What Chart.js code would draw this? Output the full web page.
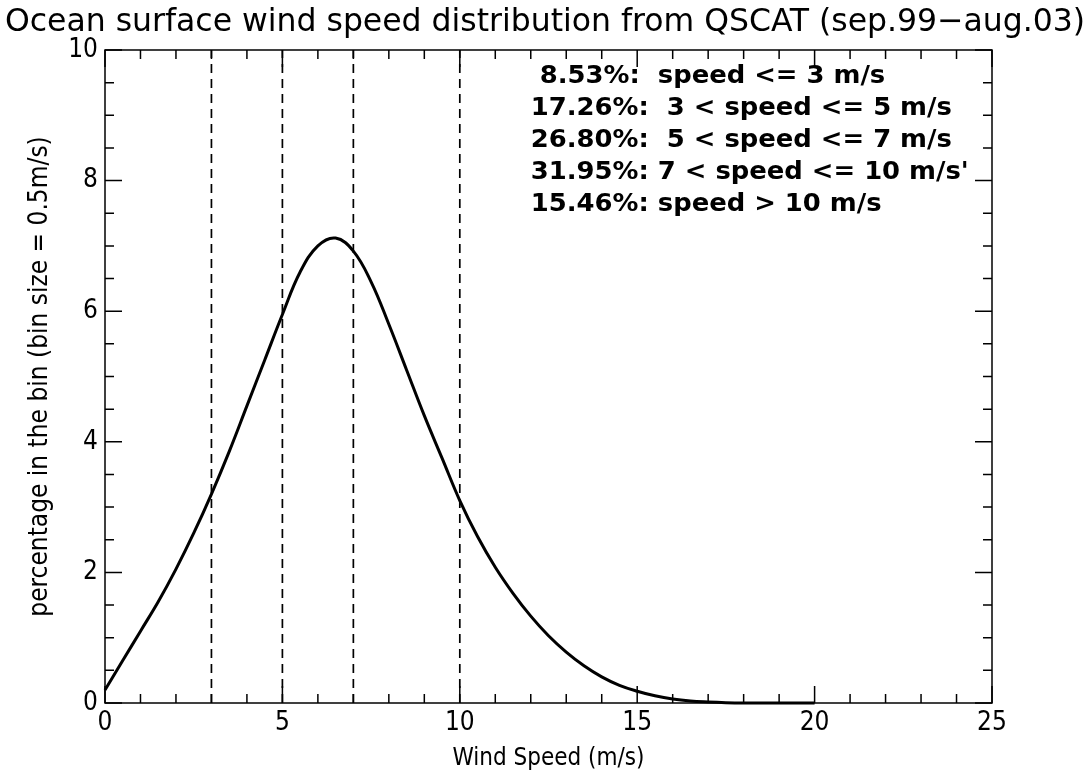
<!DOCTYPE html>
<html>
<head>
<meta charset="utf-8">
<title>QSCAT wind speed distribution</title>
<script src="https://cdn.jsdelivr.net/npm/chart.js@4.4.1/dist/chart.umd.min.js"></script>
<style>
    html, body { margin: 0; padding: 0; background: #fff; }
    #box { width: 1090px; height: 777px; }
</style>
</head>
<body>
<div id="box"><canvas id="windChart" width="1090" height="777"></canvas></div>
<script>
// wind speed bins (m/s) and percentage per 0.5 m/s bin
const speeds = [
    0, 0.5, 1, 1.5, 2, 2.5, 3, 3.5, 4, 4.5, 5, 5.5, 6, 6.5, 7, 7.5, 8, 8.5, 9, 9.5,
    10, 10.5, 11, 11.5, 12, 12.5, 13, 13.5, 14, 14.5, 15, 15.5, 16, 16.5, 17, 17.5,
    18, 18.5, 19, 19.5, 20
]
const percents = [
    0.2, 0.65, 1.1, 1.55, 2.05, 2.6, 3.2, 3.85, 4.55, 5.25, 5.95, 6.6, 7.0, 7.12, 6.92, 6.45,
    5.8, 5.1, 4.4, 3.75, 3.1, 2.55, 2.08, 1.68, 1.33, 1.03, 0.78, 0.57, 0.4, 0.27, 0.18, 0.11,
    0.06, 0.03, 0.015, 0.005, 0.0, 0.0, 0.0, 0.0, 0.0
]
const cutSpeeds = [3, 5, 7, 10]
const notes = [
    ' 8.53%:  speed <= 3 m/s',
    '17.26%:  3 < speed <= 5 m/s',
    '26.80%:  5 < speed <= 7 m/s',
    '31.95%: 7 < speed <= 10 m/s\'',
    '15.46%: speed > 10 m/s'
]
const xTicks = [0, 5, 10, 15, 20, 25]
const yTicks = [0, 2, 4, 6, 8, 10]
const titleText = 'Ocean surface wind speed distribution from QSCAT (sep.99\u2212aug.03)'

const thinFont = '"Liberation Sans Narrow", "DejaVu Sans Condensed", "DejaVu Sans", sans-serif'

const curve = speeds.map((s, i) => ({ x: s, y: percents[i] }))

const cutSets = cutSpeeds.map(c => ({
    data: [{ x: c, y: 0 }, { x: c, y: 10 }],
    borderColor: '#000',
    borderWidth: 1.7,
    borderDash: [9, 6],
    pointRadius: 0,
    showLine: true
}))

// title, frame, inward ticks on all four sides, and the percentage notes
const idlFrame = {
    id: 'idlFrame',
    afterDraw(chart) {
        const { ctx, chartArea: a, scales: { x, y } } = chart
        ctx.save()
        ctx.strokeStyle = '#000'
        ctx.lineWidth = 1.5
        ctx.strokeRect(a.left, a.top, a.right - a.left, a.bottom - a.top)
        ctx.beginPath()
        for (let v = x.min; v <= x.max; v++) {
            const px = x.getPixelForValue(v)
            const len = v % 5 === 0 ? 17 : 9
            ctx.moveTo(px, a.bottom); ctx.lineTo(px, a.bottom - len)
            ctx.moveTo(px, a.top); ctx.lineTo(px, a.top + len)
        }
        for (let v = y.min; v <= y.max; v += 0.5) {
            const py = y.getPixelForValue(v)
            const len = v % 2 === 0 ? 17 : 9
            ctx.moveTo(a.left, py); ctx.lineTo(a.left + len, py)
            ctx.moveTo(a.right, py); ctx.lineTo(a.right - len, py)
        }
        ctx.stroke()

        ctx.fillStyle = '#000'
        ctx.textBaseline = 'middle'

        // title stretched across the page like the original
        ctx.font = '32px ' + thinFont
        ctx.textAlign = 'center'
        const tw = ctx.measureText(titleText).width
        ctx.save()
        ctx.translate(545, 23)
        ctx.scale(1080 / tw, 1)
        ctx.fillText(titleText, 0, 0)
        ctx.restore()

        ctx.font = 'bold 25px "DejaVu Sans", sans-serif'
        ctx.textAlign = 'left'
        const sx = 438 / ctx.measureText(notes[3]).width
        const nx = x.getPixelForValue(12)
        notes.forEach((t, i) => {
            ctx.save()
            ctx.translate(nx, y.getPixelForValue(9.6 - i * 0.49))
            ctx.scale(sx, 1)
            ctx.fillText(t, 0, 0)
            ctx.restore()
        })
        ctx.restore()
    }
}

const windChart = new Chart(
    document.getElementById('windChart'),
    {
        type: 'scatter',
        data: {
            datasets: [
                {
                    data: curve,
                    borderColor: '#000',
                    borderWidth: 3,
                    pointRadius: 0,
                    showLine: true,
                    tension: 0.4,
                    clip: false
                },
                ...cutSets
            ]
        },
        options: {
            responsive: false,
            animation: false,
            layout: { padding: { left: 0, right: 98, top: 50, bottom: 0 } },
            plugins: {
                legend: { display: false },
                tooltip: { enabled: false },
                title: { display: false }
            },
            scales: {
                x: {
                    type: 'linear',
                    min: 0,
                    max: 25,
                    afterBuildTicks: s => { s.ticks = xTicks.map(v => ({ value: v })) },
                    afterFit: s => { s.height = 74 },
                    grid: { display: false, drawTicks: false },
                    border: { display: false },
                    ticks: { color: '#000', padding: 5, maxRotation: 0, font: { family: thinFont, size: 26 } },
                    title: {
                        display: true,
                        text: 'Wind Speed (m/s)',
                        color: '#000',
                        font: { family: thinFont, size: 24 },
                        padding: { top: 0, bottom: 4 }
                    }
                },
                y: {
                    type: 'linear',
                    min: 0,
                    max: 10,
                    afterBuildTicks: s => { s.ticks = yTicks.map(v => ({ value: v })) },
                    afterFit: s => { s.width = 105 },
                    grid: { display: false, drawTicks: false },
                    border: { display: false },
                    ticks: { color: '#000', padding: 7, font: { family: thinFont, size: 26 } },
                    title: {
                        display: true,
                        text: 'percentage in the bin (bin size = 0.5m/s)',
                        color: '#000',
                        font: { family: thinFont, size: 26 },
                        padding: { top: 25, bottom: 0 }
                    }
                }
            }
        },
        plugins: [idlFrame]
    });
</script>
</body>
</html>
